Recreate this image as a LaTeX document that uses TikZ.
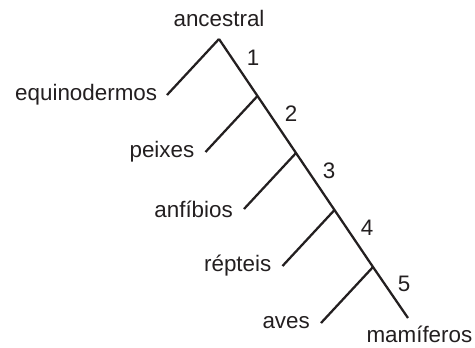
\documentclass[tikz,border=0pt]{standalone}
\usepackage{fontspec}
\setmainfont{Liberation Sans}
\usetikzlibrary{positioning}

\definecolor{inkgray}{RGB}{35,31,32}

\begin{document}
\tikzset{every picture/.style={line width=0.75pt}}
\tikzset{
  branch/.style={color=inkgray, line width=1.7pt},
  taxon/.style={text=inkgray, inner sep=0pt, font=\fontsize{16.8}{18}\selectfont},
  cladenum/.style={text=inkgray, inner sep=0pt, font=\fontsize{16.8}{18}\selectfont}
}

\begin{tikzpicture}[x=0.75pt,y=0.75pt,yscale=-1,xscale=1]
\path[use as bounding box] (0,0) rectangle (475,347);

%Main line: ancestral to mamiferos
\coordinate (root) at (219,39);
\coordinate (j1) at (257.5,96);
\coordinate (j2) at (296,153);
\coordinate (j3) at (334.5,210);
\coordinate (j4) at (373,267);
\coordinate (mam) at (408,318);
%Branch ends
\coordinate (equ) at (167,95);
\coordinate (pei) at (205.5,152);
\coordinate (anf) at (244,209);
\coordinate (rep) at (282.5,266);
\coordinate (ave) at (321,323);

\draw [branch] (root) -- (j1) -- (j2) -- (j3) -- (j4) -- (mam);
\draw [branch] (root) -- (equ);
\draw [branch] (j1) -- (pei);
\draw [branch] (j2) -- (anf);
\draw [branch] (j3) -- (rep);
\draw [branch] (j4) -- (ave);

% Text Node
\node [taxon, above=9pt of root] (ancestral) {ancestral};
% Text Node
\node [taxon, left=7pt of equ] (equinodermos) {equinodermos};
% Text Node
\node [taxon, left=8pt of pei] (peixes) {peixes};
% Text Node
\node [taxon, left=8pt of anf] (anfibios) {anfíbios};
% Text Node
\node [taxon, left=8pt of rep] (repteis) {répteis};
% Text Node
\node [taxon, left=8pt of ave] (aves) {aves};
% Text Node
\node [taxon, anchor=base west] (mamiferos) at (366,342) {mamíferos};

% Text Node
\node [cladenum] (n1) at (253,58) {1};
% Text Node
\node [cladenum] (n2) at (291,114) {2};
% Text Node
\node [cladenum] (n3) at (329,171) {3};
% Text Node
\node [cladenum] (n4) at (367,228) {4};
% Text Node
\node [cladenum] (n5) at (404,284) {5};

\end{tikzpicture}
\end{document}
